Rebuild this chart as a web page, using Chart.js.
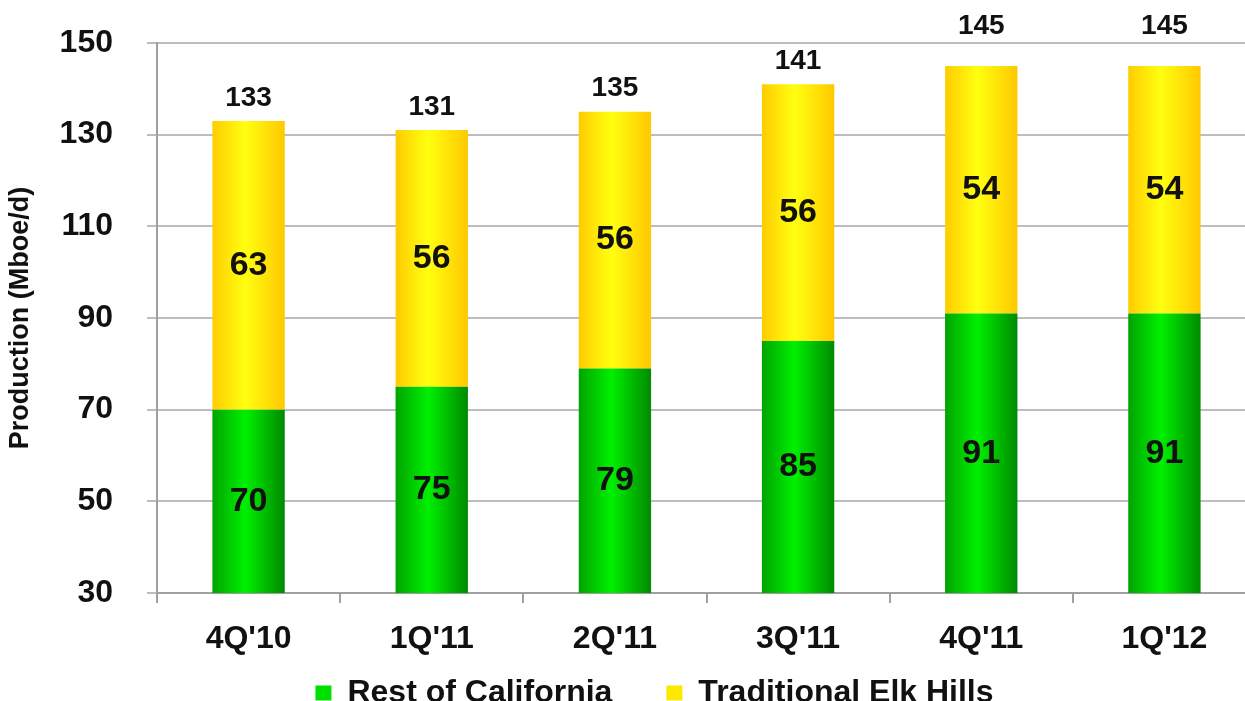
<!DOCTYPE html>
<html>
<head>
<meta charset="utf-8">
<script src="https://cdn.jsdelivr.net/npm/chart.js@4.4.0/dist/chart.umd.min.js"></script>
<style>
  html, body { margin: 0; padding: 0; background: #fff; overflow: hidden; }
  #wrap { width: 1256px; height: 719px; }
</style>
</head>
<body>
<div id="wrap"><canvas id="myChart" width="1256" height="719"></canvas></div>
<script>
const quarters = ["4Q'10", "1Q'11", "2Q'11", "3Q'11", "4Q'11", "1Q'12"];
const restOfCalifornia = [70, 75, 79, 85, 91, 91];
const traditionalElkHills = [63, 56, 56, 56, 54, 54];
const totals = [133, 131, 135, 141, 145, 145];
const yMin = 30, yMax = 150, yStep = 20;

const FONT = "'Liberation Sans', Arial, sans-serif";
const BAR_PCT = 0.395;
const LEGEND_PAD = 54;
Chart.defaults.font.family = FONT;

// horizontal shading across each bar, like the original slide
function barGradient(c, edge, mid, dark) {
    if (c.type !== 'data') return mid;
    const chart = c.chart;
    const x = chart.scales.x;
    if (!chart.chartArea || !x) return mid;
    const center = x.getPixelForValue(c.dataIndex);
    const half = x.width / quarters.length * BAR_PCT / 2;
    const g = chart.ctx.createLinearGradient(center - half, 0, center + half, 0);
    g.addColorStop(0, edge);
    g.addColorStop(0.45, mid);
    g.addColorStop(1, dark);
    return g;
}

const valueLabels = {
    id: 'valueLabels',
    afterLayout(chart) {
        // legend sits a bit right of centre; x labels must not be clipped by the short axis box
        chart.legend.left += 53;
        chart.scales.x.bottom = chart.height;
    },
    afterDatasetsDraw(chart) {
        const ctx = chart.ctx;
        const area = chart.chartArea;
        ctx.save();
        ctx.fillStyle = '#111';
        ctx.textAlign = 'center';
        ctx.textBaseline = 'middle';
        ctx.font = 'bold 34px ' + FONT;
        chart.data.datasets.forEach(function (ds, di) {
            chart.getDatasetMeta(di).data.forEach(function (bar, i) {
                const bottom = Math.min(bar.base, area.bottom);
                ctx.fillText(ds.data[i], bar.x, (bar.y + bottom) / 2);
            });
        });
        // totals sit above the stack, pushed over the top gridline when too close
        ctx.font = 'bold 28px ' + FONT;
        const top = chart.getDatasetMeta(chart.data.datasets.length - 1).data;
        top.forEach(function (bar, i) {
            let y = bar.y - 23;
            if (y < area.top + 15) y = area.top - 17;
            ctx.fillText(totals[i], bar.x, y);
        });
        ctx.restore();
    }
};

const ctx = document.getElementById('myChart').getContext('2d');
const myChart = new Chart(ctx, {
    type: 'bar',
    data: {
        labels: quarters,
        datasets: [
            {
                label: 'Rest of California',
                data: restOfCalifornia,
                backgroundColor: c => barGradient(c, '#00a400', '#00f000', '#008a00'),
                legendColor: '#00e000'
            },
            {
                label: 'Traditional Elk Hills',
                data: traditionalElkHills,
                backgroundColor: c => barGradient(c, '#ffcc00', '#ffff10', '#ffc800'),
                legendColor: '#ffe800'
            }
        ]
    },
    options: {
        responsive: false,
        animation: false,
        datasets: { bar: { barPercentage: BAR_PCT, categoryPercentage: 1, borderWidth: 0 } },
        layout: { padding: { top: 43, left: 0, right: 0, bottom: 0 } },
        plugins: {
            tooltip: { enabled: false },
            legend: {
                position: 'bottom',
                labels: {
                    color: '#111',
                    font: { size: 32, weight: 'bold' },
                    boxWidth: 16,
                    boxHeight: 15,
                    padding: LEGEND_PAD,
                    generateLabels: function (chart) {
                        return chart.data.datasets.map(function (ds, i) {
                            return {
                                text: ds.label,
                                fillStyle: ds.legendColor,
                                strokeStyle: ds.legendColor,
                                lineWidth: 0,
                                fontColor: '#111',
                                datasetIndex: i
                            };
                        });
                    }
                }
            }
        },
        scales: {
            x: {
                stacked: true,
                grid: { drawOnChartArea: false, offset: true, tickLength: 10, color: '#a0a0a0', lineWidth: 2 },
                border: { color: '#a0a0a0', width: 2 },
                ticks: { color: '#111', font: { size: 32, weight: 'bold' }, padding: 17 },
                afterFit: function (scale) { scale.height = 84 - LEGEND_PAD; }
            },
            y: {
                stacked: true,
                min: yMin,
                max: yMax,
                ticks: { stepSize: yStep, color: '#111', font: { size: 32, weight: 'bold' }, padding: 34 },
                grid: { color: '#bdbdbd', lineWidth: 2, tickLength: 10 },
                border: { color: '#a0a0a0', width: 2 },
                title: {
                    display: true,
                    text: 'Production (Mboe/d)',
                    color: '#111',
                    font: { size: 27, weight: 'bold' },
                    padding: { top: 4, bottom: 4 }
                },
                afterFit: function (scale) {
                    scale.width = 157;
                    scale.paddingTop = 0;
                }
            }
        }
    },
    plugins: [valueLabels]
});
</script>
</body>
</html>
